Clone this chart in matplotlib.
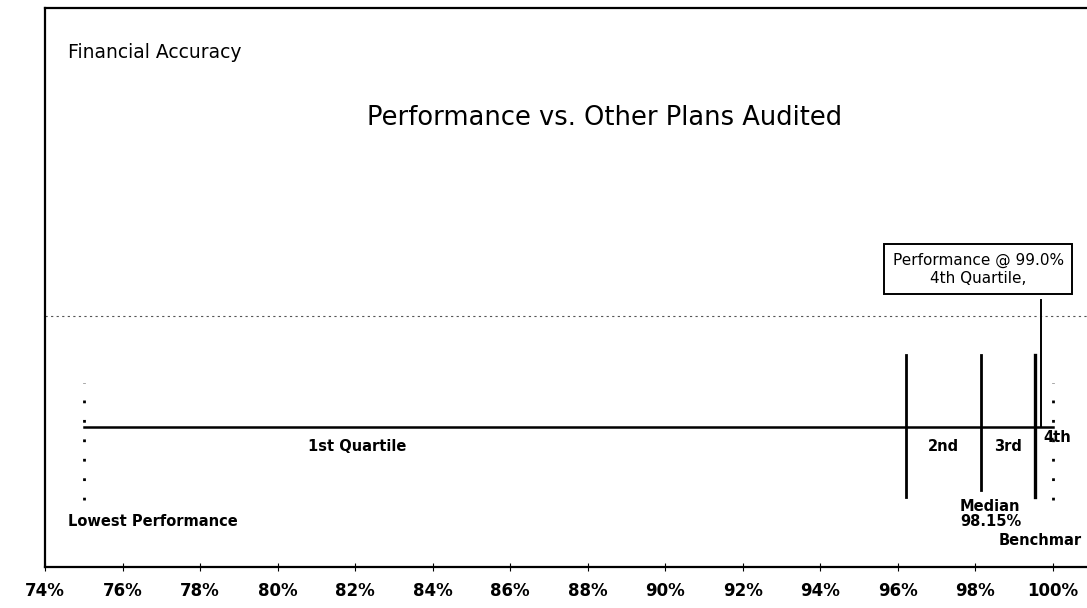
import matplotlib
matplotlib.use("Agg")
import matplotlib.pyplot as plt

plt.rcParams['font.family'] = ['DejaVu Sans']

# x axis ticks (percent)
tick_values = [74, 76, 78, 80, 82, 84, 86, 88, 90, 92, 94, 96, 98, 100]
tick_labels = [f"{v}%" for v in tick_values]

# quartile markers (percent)
lowest = 75.0
q1_end = 96.2
median = 98.15
benchmark = 99.55
performance = 99.7
highest = 100.0

quartile_names = ["1st Quartile", "2nd", "3rd", "4th"]
perf_text = "Performance @ 99.0%\n4th Quartile,"

fig = plt.figure(figsize=(10.87, 6.08), dpi=100)
ax = fig.add_axes([45 / 1087, 41 / 608, 1 - 45 / 1087, 559 / 608])
ax.set_xlim(74, 100.88)
ax.set_ylim(0, 1)

ax.spines["right"].set_visible(False)
for s in ["left", "top", "bottom"]:
    ax.spines[s].set_linewidth(1.6)

ax.set_xticks(tick_values)
ax.set_xticklabels(tick_labels, fontsize=12, fontweight='bold')
ax.tick_params(axis='x', direction='inout', length=6, pad=8)
ax.set_yticks([])

# dashed guide line
ax.axhline(0.449, color='#555555', lw=0.8, ls=(0, (2, 3)))

# main quartile line
ax.plot([lowest, highest], [0.25, 0.25], color='black', lw=1.8)

# dotted end markers
for v in [lowest, highest]:
    ax.plot([v, v], [0.12, 0.33], color='black', lw=2, ls=(0, (1, 6)))

# quartile boundaries
ax.plot([q1_end, q1_end], [0.125, 0.379], color='black', lw=2)
ax.plot([median, median], [0.138, 0.379], color='black', lw=2)
ax.plot([benchmark, benchmark], [0.125, 0.379], color='black', lw=2.4)
ax.plot([performance, performance], [0.25, 0.478], color='black', lw=1.4)

lab = dict(fontsize=10.5, fontweight='bold', va='center')

# quartile labels
ax.text(82.05, 0.215, quartile_names[0], ha='center', **lab)
ax.text((q1_end + median) / 2, 0.215, quartile_names[1], ha='center', **lab)
ax.text((median + benchmark) / 2, 0.215, quartile_names[2], ha='center', **lab)
ax.text(100.1, 0.232, quartile_names[3], ha='center', **lab)

ax.text(median - 0.55, 0.095, f"Median\n{median}%", ha='left',
        linespacing=1.0, **lab)
ax.text(98.6, 0.048, "Benchmar", ha='left', **lab)
ax.text(74.6, 0.082, "Lowest Performance", ha='left', **lab)

ax.text(74.6, 0.921, "Financial Accuracy", ha='left', va='center', fontsize=13.5)
ax.text(88.44, 0.803, "Performance vs. Other Plans Audited", ha='center', va='center',
        fontsize=18.5)

ax.text(98.07, 0.533, perf_text, ha='center', va='center', fontsize=11,
        linespacing=1.25,
        bbox=dict(boxstyle='square,pad=0.55', fc='white', ec='black', lw=1.4))

fig.savefig("out.png", dpi=100)
